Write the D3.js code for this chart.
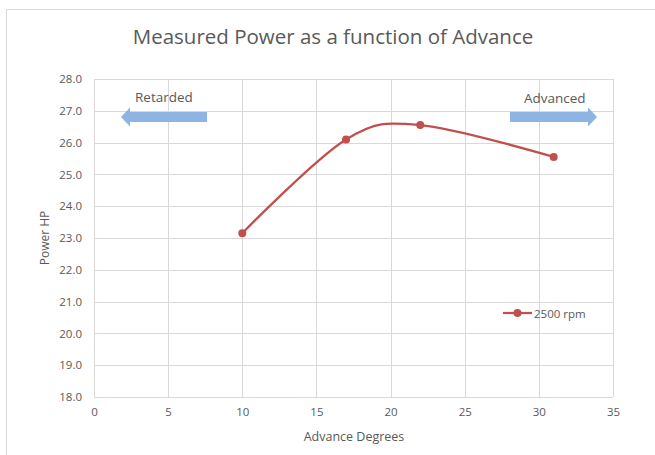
<!DOCTYPE html>
<html>
<head>
    <meta charset="utf-8">
    <title>Measured Power as a function of Advance</title>
    <script src="https://d3js.org/d3.v7.min.js"></script>
    <style>
        body { margin: 0; background: #fff; }
        text { font-family: "Open Sans", "Liberation Sans", sans-serif; fill: #595959; }
    </style>
</head>
<body>
    <svg width="655" height="455"></svg>
    <script>
        // data
        var advance = [10, 17, 22, 31];
        var powerHP = [23.15, 26.1, 26.55, 25.55];
        var seriesName = "2500 rpm";
        var xTicks = [0, 5, 10, 15, 20, 25, 30, 35];
        var yTicks = [18, 19, 20, 21, 22, 23, 24, 25, 26, 27, 28];

        var red = "#c0504d",
            blue = "#8eb4e3",
            grid = "#d9d9d9";

        var svg = d3.select("svg");

        // outer chart frame
        svg.append("rect")
            .attr("x", 6.5).attr("y", 9.5)
            .attr("width", 700).attr("height", 500)
            .attr("fill", "none")
            .attr("stroke", "#d9d9d9");

        var margin = {left: 94, right: 613, top: 79, bottom: 397};

        var x = d3.scaleLinear().domain([0, 35]).range([margin.left, margin.right]);
        var y = d3.scaleLinear().domain([18, 28]).range([margin.bottom, margin.top]);

        // gridlines
        svg.append("g")
            .selectAll("line")
            .data(xTicks)
            .enter().append("line")
            .attr("x1", function(d) { return Math.round(x(d)) + 0.5; })
            .attr("x2", function(d) { return Math.round(x(d)) + 0.5; })
            .attr("y1", y(28)).attr("y2", y(18))
            .attr("stroke", grid);

        svg.append("g")
            .selectAll("line")
            .data(yTicks)
            .enter().append("line")
            .attr("y1", function(d) { return Math.round(y(d)) + 0.5; })
            .attr("y2", function(d) { return Math.round(y(d)) + 0.5; })
            .attr("x1", x(0)).attr("x2", x(35))
            .attr("stroke", grid);

        // axes (labels only, Excel style)
        var xAxis = svg.append("g")
            .attr("transform", "translate(0," + y(18) + ")")
            .call(d3.axisBottom(x).tickValues(xTicks).tickSize(0).tickPadding(11));
        xAxis.select(".domain").remove();
        xAxis.selectAll("text").style("font-size", "11.5px").attr("fill", "#595959");

        var yAxis = svg.append("g")
            .attr("transform", "translate(" + x(0) + ",0)")
            .call(d3.axisLeft(y).tickValues(yTicks).tickSize(0).tickPadding(12)
                .tickFormat(d3.format(".1f")));
        yAxis.select(".domain").remove();
        yAxis.selectAll("text").style("font-size", "11.5px").attr("fill", "#595959");

        // title + axis titles
        svg.append("text")
            .attr("x", 333).attr("y", 44)
            .attr("text-anchor", "middle")
            .style("font-size", "20.5px")
            .text("Measured Power as a function of Advance");

        svg.append("text")
            .attr("transform", "translate(49,238) rotate(-90)")
            .attr("text-anchor", "middle")
            .style("font-size", "12px")
            .text("Power HP");

        svg.append("text")
            .attr("x", 354).attr("y", 441)
            .attr("text-anchor", "middle")
            .style("font-size", "12.5px")
            .text("Advance Degrees");

        // arrows
        function arrow(x0, x1, yc) {
            var dir = x1 > x0 ? 1 : -1,
                head = 9, shaft = 5, half = 9.5;
            var hx = x1 - dir * head;
            return "M" + x0 + "," + (yc - shaft) +
                "L" + hx + "," + (yc - shaft) +
                "L" + hx + "," + (yc - half) +
                "L" + x1 + "," + yc +
                "L" + hx + "," + (yc + half) +
                "L" + hx + "," + (yc + shaft) +
                "L" + x0 + "," + (yc + shaft) + "Z";
        }
        svg.append("path").attr("d", arrow(207, 121, 117)).attr("fill", blue);
        svg.append("path").attr("d", arrow(510, 597, 117)).attr("fill", blue);

        svg.append("text")
            .attr("x", 135).attr("y", 102)
            .style("font-size", "13.5px")
            .attr("fill", "#404040")
            .text("Retarded");
        svg.append("text")
            .attr("x", 524).attr("y", 103)
            .style("font-size", "13.5px")
            .attr("fill", "#404040")
            .text("Advanced");

        // series
        var points = advance.map(function(a, i) { return [a, powerHP[i]]; });

        var line = d3.line()
            .x(function(d) { return x(d[0]); })
            .y(function(d) { return y(d[1]); })
            .curve(d3.curveCardinal.tension(0));

        svg.append("path")
            .datum(points)
            .attr("d", line)
            .attr("fill", "none")
            .attr("stroke", red)
            .attr("stroke-width", 2.25);

        svg.append("g")
            .selectAll("circle")
            .data(points)
            .enter().append("circle")
            .attr("cx", function(d) { return x(d[0]); })
            .attr("cy", function(d) { return y(d[1]); })
            .attr("r", 4)
            .attr("fill", red);

        // legend
        var legend = svg.append("g").attr("transform", "translate(503,313)");
        legend.append("line")
            .attr("x1", 0).attr("x2", 29)
            .attr("stroke", red).attr("stroke-width", 2.25);
        legend.append("circle").attr("cx", 14.5).attr("r", 4).attr("fill", red);
        legend.append("text")
            .attr("x", 31).attr("y", 4.5)
            .style("font-size", "11.5px")
            .text(seriesName);
    </script>
</body>
</html>
